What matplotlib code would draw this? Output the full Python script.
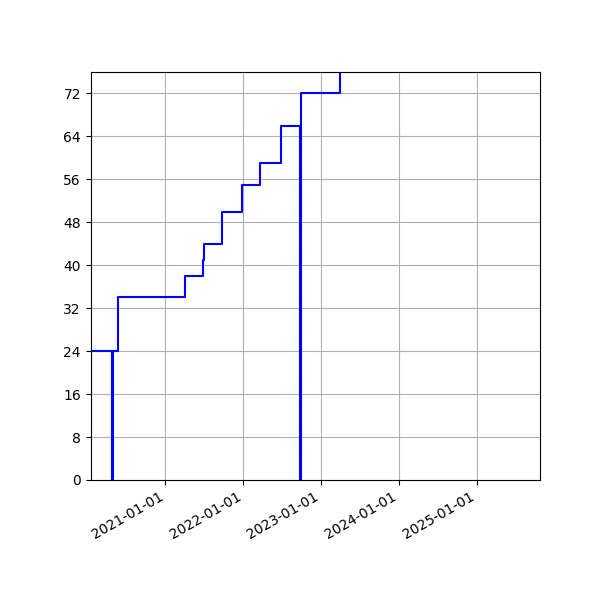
import matplotlib
matplotlib.use("Agg")
import matplotlib.pyplot as plt
import matplotlib.dates as mdates
from datetime import datetime

dates = ["2020-01-16", "2020-01-19", "2020-04-24", "2020-04-28", "2020-05-24",
         "2021-04-01", "2021-06-27", "2021-07-02", "2021-09-23", "2021-12-26",
         "2022-03-20", "2022-06-27", "2022-09-26", "2022-09-30", "2023-03-28",
         "2023-03-29"]
values = [10, 24, 0, 24, 34,
          38, 41, 44, 50, 55,
          59, 66, 0, 72, 80,
          80]
y_ticks = [0, 8, 16, 24, 32, 40, 48, 56, 64, 72]
x_end = "2025-10-23"

x = [datetime.strptime(d, "%Y-%m-%d") for d in dates]

fig = plt.figure(figsize=(6, 6), dpi=100)
ax = fig.add_subplot(111)
ax.step(x, values, where="post", color="blue", linewidth=1.5)
ax.set_xlim(x[0], datetime.strptime(x_end, "%Y-%m-%d"))
ax.set_ylim(0, 76)
ax.set_yticks(y_ticks)
ax.xaxis.set_major_locator(mdates.YearLocator())
ax.xaxis.set_major_formatter(mdates.DateFormatter("%Y-%m-%d"))
ax.grid(True)
fig.autofmt_xdate()
fig.subplots_adjust(left=0.151, right=0.9, top=0.88, bottom=0.2)
fig.savefig("out.png", dpi=100)
